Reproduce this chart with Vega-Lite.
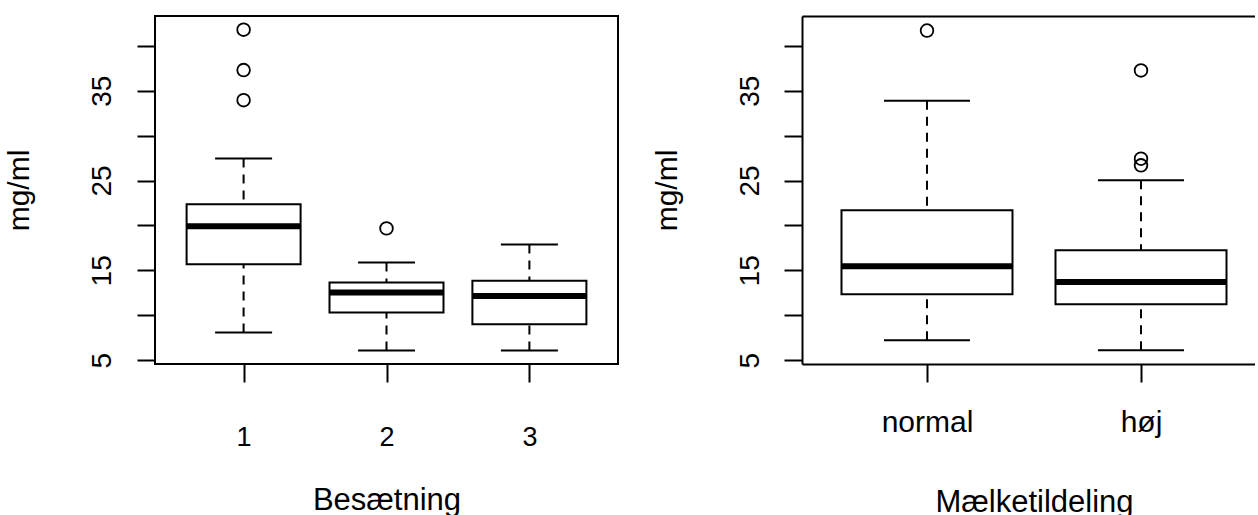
{
  "$schema": "https://vega.github.io/schema/vega-lite/v6.json",
  "padding": {"left": 3, "top": 15, "right": 0, "bottom": 0},
  "background": "white",
  "spacing": 33,
  "config": {
    "view": {"stroke": null},
    "font": "Liberation Sans",
    "axis": {
      "labelFont": "Liberation Sans",
      "titleFont": "Liberation Sans",
      "labelColor": "black",
      "titleColor": "black",
      "tickColor": "black",
      "domainColor": "black",
      "tickWidth": 2,
      "domainWidth": 2,
      "tickSize": 18,
      "grid": false,
      "titleFontWeight": "normal"
    }
  },
  "datasets": {
    "herd": [
      {"g": "1", "lower": 8.08, "q1": 15.69, "median": 19.92, "q3": 22.37, "upper": 27.46},
      {"g": "2", "lower": 6.08, "q1": 10.31, "median": 12.54, "q3": 13.65, "upper": 15.88},
      {"g": "3", "lower": 6.08, "q1": 9.01, "median": 12.13, "q3": 13.83, "upper": 17.88}
    ],
    "herdOut": [
      {"g": "1", "v": 41.8},
      {"g": "1", "v": 37.3},
      {"g": "1", "v": 33.95},
      {"g": "2", "v": 19.67}
    ],
    "milk": [
      {"g": "normal", "lower": 7.22, "q1": 12.34, "median": 15.46, "q3": 21.69, "upper": 33.88},
      {"g": "høj", "lower": 6.11, "q1": 11.23, "median": 13.71, "q3": 17.24, "upper": 25.02}
    ],
    "milkOut": [
      {"g": "normal", "v": 41.7},
      {"g": "høj", "v": 37.26},
      {"g": "høj", "v": 27.43},
      {"g": "høj", "v": 26.69}
    ]
  },
  "hconcat": [
    {
      "width": 463,
      "height": 348,
      "view": {"stroke": "black", "strokeWidth": 2},
      "data": {"name": "herd"},
      "encoding": {
        "x": {
          "field": "g", "type": "nominal", "sort": ["1", "2", "3"],
          "scale": {"type": "point", "padding": 0.62},
          "axis": {"title": "Besætning", "labelAngle": 0, "labelFontSize": 27, "labelPadding": 42, "titleFontSize": 31, "titleY": 121, "titleBaseline": "top", "domain": false}
        }
      },
      "layer": [
        {
          "mark": {"type": "rule", "strokeDash": [9, 7], "strokeWidth": 2, "color": "black"},
          "encoding": {
            "y": {"field": "upper", "type": "quantitative", "title": "mg/ml",
              "scale": {"domain": [4.57, 43.32], "nice": false, "zero": false},
              "axis": {"values": [5, 10, 15, 20, 25, 30, 35, 40], "labelExpr": "datum.value % 10 == 5 ? datum.label : ''", "labelAngle": 270, "labelAlign": "center", "labelBaseline": "bottom", "labelFontSize": 28, "labelPadding": 21, "titleFontSize": 30, "titleX": -121, "titleBaseline": "bottom", "domain": false}},
            "y2": {"field": "q3"}
          }
        },
        {
          "mark": {"type": "rule", "strokeDash": [9, 7], "strokeWidth": 2, "color": "black"},
          "encoding": {
            "y": {"field": "lower", "type": "quantitative", "title": "mg/ml", "scale": {"domain": [4.57, 43.32], "nice": false, "zero": false}},
            "y2": {"field": "q1"}
          }
        },
        {
          "mark": {"type": "tick", "size": 57, "thickness": 2, "color": "black", "opacity": 1},
          "encoding": {"y": {"field": "upper", "type": "quantitative", "title": "mg/ml", "scale": {"domain": [4.57, 43.32], "nice": false, "zero": false}}}
        },
        {
          "mark": {"type": "tick", "size": 57, "thickness": 2, "color": "black", "opacity": 1},
          "encoding": {"y": {"field": "lower", "type": "quantitative", "title": "mg/ml", "scale": {"domain": [4.57, 43.32], "nice": false, "zero": false}}}
        },
        {
          "mark": {"type": "bar", "size": 114, "fill": "white", "stroke": "black", "strokeWidth": 2},
          "encoding": {
            "y": {"field": "q1", "type": "quantitative", "title": "mg/ml", "scale": {"domain": [4.57, 43.32], "nice": false, "zero": false}},
            "y2": {"field": "q3"}
          }
        },
        {
          "mark": {"type": "tick", "size": 114, "thickness": 6, "color": "black", "opacity": 1},
          "encoding": {"y": {"field": "median", "type": "quantitative", "title": "mg/ml", "scale": {"domain": [4.57, 43.32], "nice": false, "zero": false}}}
        },
        {
          "data": {"name": "herdOut"},
          "mark": {"type": "point", "shape": "circle", "filled": false, "size": 160, "strokeWidth": 1.8, "color": "black", "opacity": 1},
          "encoding": {"y": {"field": "v", "type": "quantitative", "title": "mg/ml", "scale": {"domain": [4.57, 43.32], "nice": false, "zero": false}}}
        }
      ]
    },
    {
      "width": 453,
      "height": 348,
      "resolve": {"axis": {"x": "independent"}},
      "layer": [
        {
          "data": {"name": "milk"},
          "encoding": {
            "x": {
              "field": "g", "type": "nominal", "sort": ["normal", "høj"],
              "scale": {"type": "point", "padding": 0.5584, "align": 0.523},
              "axis": {"title": "Mælketildeling", "labelAngle": 0, "labelFontSize": 30, "labelPadding": 25, "titleFontSize": 31, "titleY": 123.5, "titleX": 232, "titleBaseline": "top", "domain": true}
            }
          },
          "layer": [
            {
              "mark": {"type": "rule", "strokeDash": [9, 7], "strokeWidth": 2, "color": "black"},
              "encoding": {
                "y": {"field": "upper", "type": "quantitative", "title": "mg/ml",
                  "scale": {"domain": [4.57, 43.32], "nice": false, "zero": false},
                  "axis": {"values": [5, 10, 15, 20, 25, 30, 35, 40], "labelExpr": "datum.value % 10 == 5 ? datum.label : ''", "labelAngle": 270, "labelAlign": "center", "labelBaseline": "bottom", "labelFontSize": 28, "labelPadding": 20, "titleFontSize": 30, "titleX": -120, "titleBaseline": "bottom", "domain": true}},
                "y2": {"field": "q3"}
              }
            },
            {
              "mark": {"type": "rule", "strokeDash": [9, 7], "strokeWidth": 2, "color": "black"},
              "encoding": {
                "y": {"field": "lower", "type": "quantitative", "title": "mg/ml", "scale": {"domain": [4.57, 43.32], "nice": false, "zero": false}},
                "y2": {"field": "q1"}
              }
            },
            {
              "mark": {"type": "tick", "size": 86, "thickness": 2, "color": "black", "opacity": 1},
              "encoding": {"y": {"field": "upper", "type": "quantitative", "title": "mg/ml", "scale": {"domain": [4.57, 43.32], "nice": false, "zero": false}}}
            },
            {
              "mark": {"type": "tick", "size": 86, "thickness": 2, "color": "black", "opacity": 1},
              "encoding": {"y": {"field": "lower", "type": "quantitative", "title": "mg/ml", "scale": {"domain": [4.57, 43.32], "nice": false, "zero": false}}}
            },
            {
              "mark": {"type": "bar", "size": 171, "fill": "white", "stroke": "black", "strokeWidth": 2},
              "encoding": {
                "y": {"field": "q1", "type": "quantitative", "title": "mg/ml", "scale": {"domain": [4.57, 43.32], "nice": false, "zero": false}},
                "y2": {"field": "q3"}
              }
            },
            {
              "mark": {"type": "tick", "size": 171, "thickness": 6, "color": "black", "opacity": 1},
              "encoding": {"y": {"field": "median", "type": "quantitative", "title": "mg/ml", "scale": {"domain": [4.57, 43.32], "nice": false, "zero": false}}}
            },
            {
              "data": {"name": "milkOut"},
              "mark": {"type": "point", "shape": "circle", "filled": false, "size": 160, "strokeWidth": 1.8, "color": "black", "opacity": 1},
              "encoding": {"y": {"field": "v", "type": "quantitative", "title": "mg/ml", "scale": {"domain": [4.57, 43.32], "nice": false, "zero": false}}}
            }
          ]
        },
        {
          "data": {"name": "milk"},
          "mark": {"type": "tick", "opacity": 0},
          "encoding": {
            "x": {
              "field": "g", "type": "nominal", "sort": ["normal", "høj"],
              "scale": {"type": "point", "padding": 0.5584, "align": 0.523},
              "axis": {"orient": "top", "ticks": false, "labels": false, "title": null, "domain": true}
            }
          }
        }
      ]
    }
  ]
}
